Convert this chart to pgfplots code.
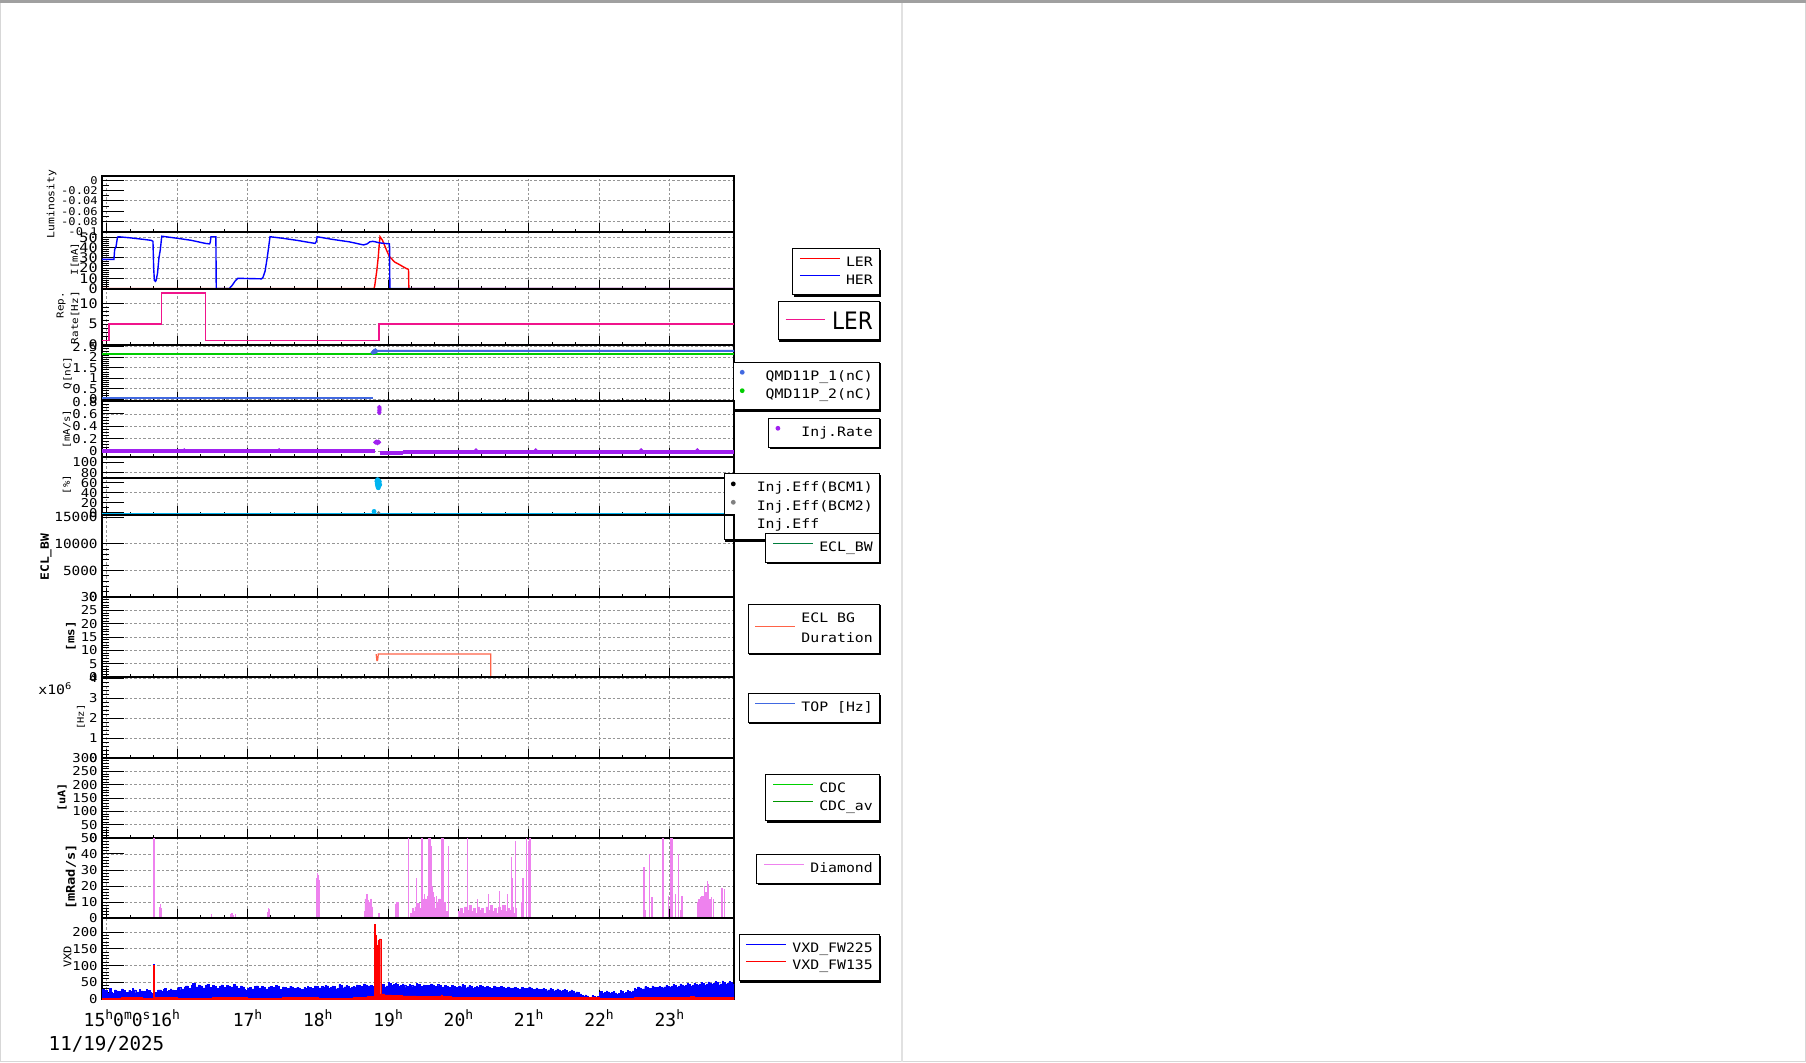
\documentclass[border=0pt]{standalone}
\usepackage{fontspec}
\usepackage{pgfplots}
\pgfplotsset{compat=1.18}
\setmainfont{DejaVu Sans Mono}
\newfontfamily\monos[FakeStretch=1.14]{DejaVu Sans Mono}
\newfontfamily\monox{DejaVu Sans Mono}
\newfontfamily\bigsans[FakeStretch=0.9]{DejaVu Sans}
\newcommand\sh[1]{\raisebox{0.42em}{\fontsize{6.5}{7}\selectfont #1}}
\newcommand\fs[1]{\fontsize{#1}{#1}\selectfont}
\newcommand\shadowof[1]{%
  \fill[black] ([yshift=-0.7pt]#1.north east) rectangle ([xshift=0.7pt,yshift=-0.7pt]#1.south east);
  \fill[black] ([xshift=0.7pt]#1.south west) rectangle ([xshift=0.7pt,yshift=-0.7pt]#1.south east);}
\definecolor{her}{RGB}{0,0,255}
\definecolor{ler}{RGB}{255,0,0}
\definecolor{rep}{RGB}{240,20,140}
\definecolor{qone}{RGB}{65,105,225}
\definecolor{qtwo}{RGB}{0,205,0}
\definecolor{injr}{RGB}{160,32,240}
\definecolor{injc}{RGB}{0,180,240}
\definecolor{eclbw}{RGB}{0,125,60}
\definecolor{eclbg}{RGB}{255,99,71}
\definecolor{topc}{RGB}{65,105,225}
\definecolor{cdc}{RGB}{0,210,0}
\definecolor{cdcav}{RGB}{0,150,0}
\definecolor{diam}{RGB}{238,130,238}
\definecolor{gridc}{RGB}{150,150,150}
\pgfplotsset{
  panel/.style={
    scale only axis, width=316pt, anchor=south west,
    xmin=14.93, xmax=23.92,
    xtick={15,16,17,18,19,20,21,22,23}, minor x tick num=2,
    xticklabels={},
    tick align=inside, xtick pos=left, ytick pos=left,
    axis line style={line width=0.6pt, black},
    xtick style={black, line width=0.5pt, /pgfplots/major tick length=4.5pt, /pgfplots/minor tick length=1.7pt},
    ytick style={black, line width=0.5pt, /pgfplots/major tick length=10.8pt, /pgfplots/minor tick length=3.3pt},
    minor y tick num=4,
    grid=major,
    major grid style={dash pattern=on 1.3pt off 1pt, color=gridc, line width=0.45pt},
    yticklabel style={font=\monos\fs{6.1}, inner sep=0pt, xshift=-2pt},
    scaled y ticks=false,
    legend cell align=left,
  },
  leg/.style 2 args={
    legend style={
      name=#2,
      at={(1.231,#1)}, anchor=north east,
      draw=black, line width=0.5pt, fill=white,
      font=\monos\fs{6.5},
      inner xsep=3.35pt, inner ysep=3.85pt,
      row sep=2.35pt,
      /tikz/column sep=2.85pt,
      nodes={inner sep=0pt},
    },
  },
  legfix/.style={legend style={nodes={text height=4.9pt, text depth=1.6pt}}},
  linelegend/.style={legend image code/.code={\draw[##1, fill=none, line width=0.5pt] (0pt,2.4pt) -- (20pt,2.4pt);}},
  dotlegend/.style={legend image code/.code={\fill[##1, draw=none] (1.1pt,2.4pt) circle (1.2pt); \path[draw=none, fill=none] (0pt,0pt) -- (10pt,0pt);}},
}
\begin{document}
\begin{tikzpicture}
\path[use as bounding box] (0,0) rectangle (903pt,531pt);
\fill[white] (0,0) rectangle (903pt,531pt);
\draw[color={rgb,255:red,215;green,215;blue,215}, line width=0.6pt] (0.3pt,0.3pt) rectangle (902.7pt,530.7pt);
\draw[color={rgb,255:red,225;green,225;blue,225}, line width=0.6pt] (451pt,0pt) -- (451pt,530pt);
\draw[color={rgb,255:red,160;green,160;blue,160}, line width=1.4pt] (0,530.3pt) -- (903pt,530.3pt);

% 1 Luminosity
\begin{axis}[panel, at={(51pt,415pt)}, height=28pt,
  ymin=-0.1, ymax=0.008,
  ytick={-0.08,-0.04,0}, yticklabels={-0.08,-0.04,0},
  extra y ticks={-0.1,-0.06,-0.02}, extra y tick labels={-0.1,-0.06,-0.02},
  extra y tick style={grid=none},
  minor y tick num=3,
  yticklabel style={font=\monos\fs{5.3}}]
\addplot[draw=none, forget plot] coordinates {(16,-0.05)};
\end{axis}

% 2 I[mA]
\begin{axis}[panel, at={(51pt,386.5pt)}, height=28.5pt,
  ymin=-0.4, ymax=55.1, ytick={0,10,20,30,40,50}, yticklabels={0,10,20,30,40,50},
  yticklabel style={font=\monos\fs{6.6}}, leg={0.714}{LA}, legfix, linelegend]
\addplot[forget plot, color=ler, line width=0.7pt] coordinates {
(14.93,0) (18.80,0) (18.81,3) (18.82,8) (18.84,18) (18.86,31) (18.875,44) (18.885,50.5)
(18.92,47) (18.95,42) (18.98,37) (19.02,31) (19.05,29) (19.09,26) (19.13,24.5) (19.17,23)
(19.22,21) (19.26,19.5) (19.29,18.7) (19.295,0) (23.92,0)};
\addplot[forget plot, color=her, line width=0.7pt] coordinates {
(14.93,28.4) (15.10,28.4) (15.11,38) (15.13,41) (15.15,50) (15.16,50.5) (15.32,49.5) (15.45,48.5)
(15.63,47) (15.655,46) (15.665,20) (15.675,8) (15.69,7) (15.70,8) (15.72,15) (15.74,30) (15.76,38)
(15.78,51) (16.0,49) (16.2,47) (16.4,44) (16.46,43.5) (16.47,45) (16.48,50.5) (16.55,50.5)
(16.555,0) (16.74,0) (16.78,3) (16.82,7) (16.86,10) (17.20,9.5) (17.22,11) (17.25,17)
(17.28,30) (17.30,40) (17.32,50.5) (17.50,49) (17.70,47) (17.96,44) (17.98,46) (17.99,50.5)
(18.2,48) (18.45,45.5) (18.65,42.5) (18.70,43.5) (18.74,45.5) (18.78,46) (18.82,45.5)
(18.88,44.5) (18.95,44) (19.02,43.5) (19.025,0) (23.92,0)};
\addlegendimage{color=ler}\addlegendentry{LER}
\addlegendimage{color=her}\addlegendentry{HER}
\end{axis}
\shadowof{LA}

% 3 Rep. rate
\begin{axis}[panel, at={(51pt,358.5pt)}, height=28pt,
  ymin=-0.1, ymax=13.6, ytick={0,5,10}, yticklabels={0,5,10},
  yticklabel style={font=\monos\fs{6.6}}, leg={0.791}{LB},
  legend style={font=\bigsans\fs{12}, inner ysep=5.1pt, inner xsep=3.35pt, /tikz/column sep=3.3pt,
    nodes={text height=9pt, text depth=0pt}},
  legend image code/.code={\draw[#1, fill=none, line width=0.5pt] (0pt,0.5pt) -- (19.7pt,0.5pt);}]
\addplot[forget plot, color=rep, line width=0.7pt] coordinates {
(14.93,1) (15.03,1) (15.03,5) (15.774,5) (15.774,12.6) (16.405,12.6) (16.405,1)
(18.87,1) (18.87,5) (23.92,5)};
\addlegendimage{color=rep}\addlegendentry{LER}
\end{axis}
\shadowof{LB}

% 4 Q[nC]
\begin{axis}[panel, at={(51pt,330.5pt)}, height=28pt,
  ymin=-0.08, ymax=2.586, ytick={0,0.5,1,1.5,2,2.5}, yticklabels={0,0.5,1,1.5,2,2.5},
  leg={0.702}{LC}, legfix, dotlegend]
\addplot[forget plot, color=qtwo, line width=1.2pt] coordinates {(14.93,2.17) (23.92,2.17)};
\addplot[forget plot, color=qone, line width=1pt] coordinates {(14.93,0.06) (18.785,0.06)};
\addplot[forget plot, color=qone, line width=1pt] coordinates {(18.78,2.25) (18.80,2.27) (18.82,2.31) (23.92,2.31)};
\addplot[forget plot, only marks, mark=*, mark size=0.8pt, color=qone] coordinates {
(18.78,2.22) (18.79,2.26) (18.80,2.3) (18.81,2.24) (18.82,2.34) (18.83,2.28)};
\addlegendimage{color=qone}\addlegendentry{QMD11P\_1(nC)}
\addlegendimage{color=qtwo}\addlegendentry{QMD11P\_2(nC)}
\end{axis}
\shadowof{LC}

% 5 Inj rate [mA/s]
\begin{axis}[panel, at={(51pt,302.5pt)}, height=28pt,
  ymin=-0.097, ymax=0.81, ytick={0,0.2,0.4,0.6,0.8}, yticklabels={0,0.2,0.4,0.6,0.8},
  minor y tick num=3, leg={0.702}{LD}, legfix, dotlegend]
\addplot[forget plot, color=injr, line width=2pt] coordinates {
(14.93,-0.006) (18.82,-0.006)};
\addplot[forget plot, color=injr, line width=2pt] coordinates {
(18.88,-0.03) (19.21,-0.03)};
\addplot[forget plot, color=injr, line width=2pt] coordinates {
(19.21,-0.008) (23.92,-0.008)};
\addplot[forget plot, only marks, mark=*, mark size=0.9pt, color=injr] coordinates {
(18.875,0.62) (18.875,0.65) (18.877,0.68) (18.875,0.71) (18.82,0.14) (18.83,0.15) (18.84,0.14)
(18.85,0.13) (18.86,0.15) (18.87,0.14) (16.1,0.01) (17.45,0.01) (20.25,0.01) (21.1,0.01)
(22.6,0.01) (23.4,0.01)};
\addlegendimage{color=injr}\addlegendentry{Inj.Rate}
\end{axis}
\shadowof{LD}

% 6 Inj eff [%]
\begin{axis}[panel, at={(51pt,273.5pt)}, height=29pt,
  ymin=-4, ymax=110.9, ytick={0,40,80}, yticklabels={0,40,80},
  extra y ticks={20,60,100}, extra y tick labels={20,60,100}, extra y tick style={grid=none},
  minor y tick num=3, leg={0.719}{LE}, legfix, dotlegend]
\addplot[forget plot, color=black, line width=0.9pt] coordinates {(14.93,69.7) (23.92,69.7)};
\addplot[forget plot, color=injc, line width=1pt] coordinates {(14.93,-1.2) (23.92,-1.2)};
\addplot[forget plot, only marks, mark=*, mark size=1pt, color=injc] coordinates {
(18.84,63) (18.845,58) (18.85,55) (18.855,52) (18.86,60) (18.865,57) (18.87,54) (18.875,62)
(18.85,66) (18.86,50) (18.88,56) (18.865,64) (18.80,3)};
\addplot[forget plot, only marks, mark=*, mark size=0.6pt, color=gray] coordinates {(18.865,0.5)};
\addlegendimage{color=black}\addlegendentry{Inj.Eff(BCM1)}
\addlegendimage{color=gray}\addlegendentry{Inj.Eff(BCM2)}
\addlegendimage{color=white}\addlegendentry{Inj.Eff}
\end{axis}
\shadowof{LE}

% 7 ECL_BW
\begin{axis}[panel, at={(51pt,232.5pt)}, height=41pt,
  ymin=0, ymax=15430, ytick={0,5000,10000}, yticklabels={0,5000,10000},
  extra y ticks={15000}, extra y tick labels={15000}, extra y tick style={grid=none},
  yticklabel style={font=\monos\fs{6.3}}, leg={0.777}{LF}, legfix, linelegend]
\addplot[draw=none, forget plot] coordinates {(16,-100)};
\addlegendimage{color=eclbw}\addlegendentry{ECL\_BW}
\end{axis}
\shadowof{LF}

% 8 ECL BG duration [ms]
\begin{axis}[panel, at={(51pt,192.5pt)}, height=40pt,
  ymin=0, ymax=30, ytick={0,5,10,15,20,25,30}, yticklabels={0,5,10,15,20,25,30},
  leg={0.9125}{LG}, legfix, legend style={row sep=2.7pt},
  legend image code/.code={\draw[#1, fill=none, line width=0.5pt] (0pt,-3.9pt) -- (20pt,-3.9pt);}]
\addplot[forget plot, color=eclbg, line width=0.6pt] coordinates {
(18.83,8.6) (18.835,7.4) (18.84,6.2) (18.85,6.2) (18.855,7.2) (18.86,8.6) (20.46,8.6) (20.46,0)};
\addlegendimage{color=eclbg}\addlegendentry{ECL BG}
\addlegendimage{empty legend}\addlegendentry{Duration}
\end{axis}
\shadowof{LG}

% 9 TOP [Hz]
\begin{axis}[panel, at={(51pt,152pt)}, height=40.5pt,
  ymin=0, ymax=4.07, ytick={0,1,2,3,4}, yticklabels={0,1,2,3,4},
  leg={0.799}{LH}, legfix, linelegend]
\addplot[draw=none, forget plot] coordinates {(16,-1)};
\addlegendimage{color=topc}\addlegendentry{TOP [Hz]}
\end{axis}
\shadowof{LH}

% 10 CDC [uA]
\begin{axis}[panel, at={(51pt,112pt)}, height=40pt,
  ymin=0, ymax=300, ytick={0,50,100,150,200,250,300}, yticklabels={0,50,100,150,200,250,300},
  leg={0.796}{LI}, legfix, linelegend]
\addplot[draw=none, forget plot] coordinates {(16,-10)};
\addlegendimage{color=cdc}\addlegendentry{CDC}
\addlegendimage{color=cdcav}\addlegendentry{CDC\_av}
\end{axis}
\shadowof{LI}

% 11 Diamond [mRad/s]
\begin{axis}[panel, at={(51pt,72pt)}, height=40pt,
  ymin=0, ymax=50, ytick={0,10,20,30,40,50}, yticklabels={0,10,20,30,40,50},
  leg={0.796}{LJ}, legfix, linelegend]
\addplot[forget plot, color=diam, line width=0.6pt] coordinates {(14.93,0.4) (23.92,0.4)};
\addplot[forget plot, const plot, fill=diam, draw=diam, line width=0.3pt] coordinates {
(18.66,4) (18.67,12) (18.68,9) (18.69,15) (18.70,7) (18.71,11) (18.72,5) (18.73,10) (18.74,6)
(18.75,12) (18.76,4) (18.77,7) (18.78,0.4)} \closedcycle;
\addplot[forget plot, const plot, fill=diam, draw=diam, line width=0.3pt] coordinates {
(19.32,3) (19.34,6) (19.36,4) (19.38,7) (19.40,5) (19.42,9) (19.44,4) (19.46,6) (19.48,10)
(19.50,7) (19.52,12) (19.54,6) (19.56,9) (19.58,5) (19.60,11) (19.62,8) (19.64,13) (19.66,6)
(19.68,10) (19.70,7) (19.72,12) (19.74,5) (19.76,9) (19.78,6) (19.80,10) (19.82,4) (19.84,0.4)} \closedcycle;
\addplot[forget plot, const plot, fill=diam, draw=diam, line width=0.3pt] coordinates {
(20.00,4) (20.03,6) (20.06,3) (20.09,7) (20.12,5) (20.15,8) (20.18,4) (20.21,6) (20.24,3)
(20.27,7) (20.30,5) (20.33,6) (20.36,3) (20.39,7) (20.42,5) (20.45,8) (20.48,4) (20.51,6)
(20.54,3) (20.57,7) (20.60,5) (20.63,8) (20.66,4) (20.69,6) (20.72,5) (20.75,7) (20.78,3)
(20.81,6) (20.83,0.4)} \closedcycle;
\addplot[forget plot, ycomb, color=diam, line width=0.65pt] coordinates {
(15.67,50) (15.755,7) (15.765,8.5) (15.775,6) (16.49,2.5) (16.76,2.5) (16.78,3) (16.80,2)
(16.83,2.5) (17.29,4) (17.30,6) (17.31,5.5) (17.985,25) (17.995,28) (18.005,27) (18.015,24)
(18.87,3) (19.11,9) (19.12,10) (19.13,8) (19.14,10) (19.15,9.5) (19.29,50) (19.40,25)
(19.47,50) (19.48,50) (19.49,50) (19.50,12) (19.52,15) (19.56,14) (19.58,50) (19.59,30)
(19.60,50) (19.61,40) (19.62,45) (19.63,20) (19.65,16) (19.69,14) (19.76,50) (19.77,50)
(19.78,50) (19.79,50) (19.86,45) (20.13,50) (20.27,12) (20.43,15) (20.58,17) (20.70,15)
(20.75,38) (20.77,25) (20.81,48) (20.90,10) (20.92,25) (20.97,50) (21.00,48) (21.02,50)
(22.63,5) (22.64,32) (22.66,5) (22.72,40) (22.755,13) (22.91,50) (22.99,14) (23.02,50)
(23.03,50) (23.05,50) (23.09,15) (23.13,40) (23.16,5) (23.18,14) (23.40,10) (23.42,12)
(23.44,13) (23.46,14) (23.48,14) (23.50,20) (23.52,16) (23.54,23) (23.56,21) (23.58,12)
(23.60,13) (23.63,12) (23.75,19) (23.78,18)};
\addlegendimage{color=diam}\addlegendentry{Diamond}
\end{axis}
\shadowof{LJ}

% 12 VXD
\begin{axis}[panel, at={(51pt,31.5pt)}, height=40.5pt,
  ymin=0, ymax=242.5, ytick={0,50,100,150,200}, yticklabels={0,50,100,150,200},
  xticklabels={,,17\sh{h},18\sh{h},19\sh{h},20\sh{h},21\sh{h},22\sh{h},23\sh{h}},
  xticklabel style={font=\monox\fs{9}, anchor=base, yshift=-13.85pt, inner sep=0pt},
  leg={0.799}{LK}, legfix, linelegend]
\addplot[forget plot, const plot, fill=her, draw=her, line width=0.2pt] coordinates {
(14.93,28) (14.96,20) (14.98,25) (15.01,16) (15.03,31) (15.06,21) (15.08,17) (15.11,27)
(15.13,24) (15.16,18) (15.18,22) (15.21,30) (15.23,25) (15.26,16) (15.28,20) (15.31,26)
(15.33,23) (15.36,31) (15.38,27) (15.41,18) (15.43,21) (15.46,28) (15.48,24) (15.51,17)
(15.53,22) (15.56,29) (15.58,26) (15.61,19) (15.63,17) (15.658,103) (15.672,20)
(15.72,27) (15.77,22) (15.80,29) (15.82,31) (15.85,23) (15.87,25) (15.90,30) (15.92,27)
(15.95,24) (15.97,26) (16.00,31) (16.02,34) (16.05,27) (16.07,30) (16.10,36) (16.12,39)
(16.15,29) (16.17,32) (16.20,41) (16.22,46) (16.25,33) (16.27,36) (16.30,42) (16.32,39)
(16.35,30) (16.37,33) (16.40,40) (16.42,43) (16.45,31) (16.47,35) (16.50,41) (16.52,38)
(16.55,29) (16.57,31) (16.60,38) (16.62,42) (16.65,30) (16.67,34) (16.70,40) (16.72,37)
(16.75,32) (16.77,36) (16.80,43) (16.82,39) (16.85,28) (16.87,32) (16.90,39) (16.92,36)
(16.95,29) (16.97,25) (17.00,31) (17.02,35) (17.05,27) (17.07,30) (17.10,37) (17.12,39)
(17.15,30) (17.17,33) (17.20,38) (17.22,35) (17.25,27) (17.27,30) (17.30,36) (17.32,38)
(17.35,31) (17.37,34) (17.40,40) (17.42,37) (17.45,26) (17.47,29) (17.50,36) (17.52,34)
(17.55,28) (17.57,31) (17.60,38) (17.62,36) (17.65,29) (17.67,32) (17.70,35) (17.72,33)
(17.75,26) (17.77,28) (17.80,34) (17.82,32) (17.85,37) (17.87,35) (17.90,29) (17.92,31)
(17.95,39) (17.97,37) (18.00,30) (18.02,33) (18.05,37) (18.07,35) (18.10,41) (18.12,39)
(18.15,31) (18.17,34) (18.20,39) (18.22,37) (18.25,30) (18.27,32) (18.30,43) (18.32,40)
(18.35,33) (18.37,36) (18.40,40) (18.42,38) (18.45,31) (18.47,34) (18.50,38) (18.52,36)
(18.55,42) (18.57,40) (18.60,34) (18.62,37) (18.65,45) (18.67,42) (18.70,36) (18.72,39)
(18.75,41) (18.77,38) (18.80,20) (18.83,5) (18.86,2) (18.89,10) (18.92,43) (18.95,36)
(18.97,39) (19.00,51) (19.02,46) (19.05,40) (19.07,43) (19.10,47) (19.12,44) (19.15,37)
(19.17,40) (19.20,45) (19.22,42) (19.25,35) (19.27,38) (19.30,44) (19.32,41) (19.35,36)
(19.37,39) (19.40,46) (19.42,43) (19.45,34) (19.47,37) (19.50,42) (19.52,40) (19.55,38)
(19.57,41) (19.60,45) (19.62,42) (19.65,35) (19.67,38) (19.70,43) (19.72,40) (19.75,33)
(19.77,36) (19.80,40) (19.82,37) (19.85,31) (19.87,34) (19.90,41) (19.92,38) (19.95,32)
(19.97,35) (20.00,39) (20.02,36) (20.05,43) (20.07,40) (20.10,33) (20.12,36) (20.15,40)
(20.17,37) (20.20,31) (20.22,34) (20.25,38) (20.27,35) (20.30,41) (20.32,38) (20.35,32)
(20.37,35) (20.40,37) (20.42,34) (20.45,29) (20.47,32) (20.50,39) (20.52,36) (20.55,31)
(20.57,34) (20.60,37) (20.62,35) (20.65,28) (20.67,31) (20.70,36) (20.72,33) (20.75,30)
(20.77,33) (20.80,35) (20.82,32) (20.85,27) (20.87,30) (20.90,34) (20.92,31) (20.95,28)
(20.97,31) (21.00,36) (21.02,33) (21.05,26) (21.07,29) (21.10,33) (21.12,30) (21.15,25)
(21.17,28) (21.20,32) (21.22,29) (21.25,24) (21.27,27) (21.30,31) (21.32,28) (21.35,23)
(21.37,26) (21.40,30) (21.42,27) (21.45,22) (21.47,25) (21.50,28) (21.52,25) (21.55,20)
(21.57,23) (21.60,27) (21.62,24) (21.65,18) (21.67,21) (21.70,19) (21.72,15) (21.75,11)
(21.77,8) (21.80,12) (21.82,9) (21.85,4) (21.87,6) (21.90,10) (21.92,7) (21.95,5)
(21.97,8) (22.00,20) (22.02,23) (22.05,16) (22.07,19) (22.10,24) (22.12,21) (22.15,16)
(22.17,19) (22.20,22) (22.22,18) (22.25,14) (22.27,17) (22.30,25) (22.32,22) (22.35,17)
(22.37,20) (22.40,26) (22.42,23) (22.45,20) (22.47,24) (22.50,31) (22.52,28) (22.55,36)
(22.57,33) (22.60,27) (22.62,30) (22.65,37) (22.67,34) (22.70,29) (22.72,32) (22.75,39)
(22.77,36) (22.80,31) (22.82,34) (22.85,38) (22.87,35) (22.90,32) (22.92,36) (22.95,41)
(22.97,38) (23.00,34) (23.02,37) (23.05,43) (23.07,40) (23.10,35) (23.12,38) (23.15,45)
(23.17,42) (23.20,37) (23.22,40) (23.25,46) (23.27,43) (23.30,38) (23.32,41) (23.35,47)
(23.37,44) (23.40,40) (23.42,43) (23.45,49) (23.47,46) (23.50,41) (23.52,44) (23.55,51)
(23.57,48) (23.60,43) (23.62,46) (23.65,53) (23.67,49) (23.70,42) (23.72,45) (23.75,54)
(23.77,50) (23.80,44) (23.82,47) (23.85,52) (23.87,49) (23.90,45) (23.92,46)} \closedcycle;
\addplot[forget plot, const plot, fill=ler, draw=ler, line width=0.2pt] coordinates {
(14.93,3) (15.2,4) (15.5,3) (15.658,100) (15.672,4) (16.0,3) (16.5,4) (17.0,3) (17.5,4)
(18.0,3) (18.5,4) (18.7,8) (18.80,224) (18.815,190) (18.83,160) (18.855,175) (18.875,180)
(18.895,15) (18.95,12) (19.05,10) (19.2,9) (19.4,8) (19.6,7) (19.75,12) (19.77,7) (19.9,6)
(20.2,5) (20.6,5) (21.0,4) (21.5,4) (22.0,3) (22.5,4) (23.0,5) (23.3,8) (23.35,4) (23.6,6)
(23.65,4) (23.92,4)} \closedcycle;
\addlegendimage{color=her}\addlegendentry{VXD\_FW225}
\addlegendimage{color=ler}\addlegendentry{VXD\_FW135}
\end{axis}
\shadowof{LK}

% axis titles
\node[rotate=90, font=\monos\fs{5}, inner sep=0pt] at (25.85pt,429pt) {Luminosity};
\node[rotate=90, font=\monos\fs{4.7}, inner sep=0pt] at (37.5pt,401.5pt) {I[mA]};
\node[rotate=90, anchor=east, font=\monos\fs{4.8}, inner sep=0pt] at (30.5pt,385.2pt) {Rep.};
\node[rotate=90, anchor=east, font=\monos\fs{4.8}, inner sep=0pt] at (37.5pt,385.5pt) {Rate[Hz]};
\node[rotate=90, font=\monos\fs{4.85}, inner sep=0pt] at (33.75pt,344.5pt) {Q[nC]};
\node[rotate=90, font=\monos\fs{4.65}, inner sep=0pt] at (33.5pt,316.5pt) {[mA/s]};
\node[rotate=90, font=\monos\fs{4.65}, inner sep=0pt] at (33.5pt,288.75pt) {[\%]};
\node[rotate=90, font=\monos\bfseries\fs{5.7}, inner sep=0pt] at (23pt,252.5pt) {ECL\_BW};
\node[rotate=90, font=\monos\bfseries\fs{5.5}, inner sep=0pt] at (35.5pt,213pt) {[ms]};
\node[rotate=90, font=\monos\fs{4.55}, inner sep=0pt] at (40.5pt,172.5pt) {[Hz]};
\node[anchor=base west, font=\monos\fs{6.5}, inner sep=0pt] at (19pt,183.5pt) {x10\raisebox{0.45em}{\fs{4.6}6}};
\node[rotate=90, font=\monos\bfseries\fs{5.2}, inner sep=0pt] at (31pt,132.25pt) {[uA]};
\node[rotate=90, font=\monos\bfseries\fs{6}, inner sep=0pt] at (35.5pt,92.5pt) {[mRad/s]};
\node[rotate=90, font=\monos\fs{5.3}, inner sep=0pt] at (33.75pt,52.5pt) {VXD};
% time labels
\node[anchor=base west, font=\monox\fs{9}, inner sep=0pt] at (41.65pt,17.65pt) {15\sh{h}0\sh{m}0\sh{s}16\sh{h}};
\node[anchor=base west, font=\monox\fs{9.6}, inner sep=0pt] at (24.15pt,6pt) {11/19/2025};
\end{tikzpicture}
\end{document}
